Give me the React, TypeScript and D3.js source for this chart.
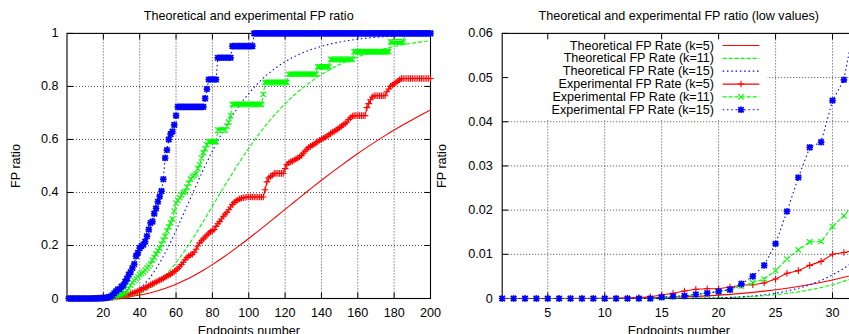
import React from "react";
import * as d3 from "d3";

// ---------------- DATA ----------------
// Endpoints number for experimental series (1..200)
const expN: number[] = d3.range(1, 201);

const expK5: number[] = [
  0, 0, 0, 0, 0, 0, 0, 0, 0, 0, 0,
  0.0001, 0.0002, 0.0004, 0.0008, 0.0012, 0.0017, 0.0021, 0.0022, 0.0022, 0.0026,
  0.003, 0.0031, 0.0035, 0.0044, 0.0057, 0.0063, 0.0075, 0.0084, 0.01, 0.0104, 0.011,
  0.012, 0.014, 0.017, 0.019, 0.022, 0.025, 0.028, 0.031, 0.034, 0.037,
  0.041, 0.044, 0.048, 0.052, 0.055, 0.058, 0.062, 0.066, 0.069, 0.072,
  0.076, 0.08, 0.084, 0.088, 0.092, 0.097, 0.102, 0.107, 0.113, 0.12,
  0.128, 0.137, 0.146, 0.154, 0.16, 0.164, 0.167, 0.175, 0.186, 0.198,
  0.21, 0.218, 0.225, 0.232, 0.239, 0.246, 0.252, 0.256, 0.26, 0.272,
  0.282, 0.29, 0.3, 0.31, 0.318, 0.325, 0.335, 0.345, 0.355, 0.362,
  0.368, 0.372, 0.376, 0.378, 0.38, 0.381,
  0.383, 0.383, 0.383, 0.383, 0.383, 0.383, 0.383, 0.383, 0.383, 0.383,
  0.41, 0.44, 0.455, 0.46, 0.465,
  0.472, 0.472, 0.472, 0.472, 0.472, 0.472,
  0.49, 0.505, 0.512, 0.516, 0.518, 0.522, 0.526, 0.53, 0.534, 0.54,
  0.548, 0.556, 0.563, 0.57, 0.574, 0.578, 0.582, 0.587, 0.592, 0.597,
  0.6, 0.604, 0.608, 0.612, 0.617, 0.622, 0.627, 0.63, 0.635, 0.64,
  0.645, 0.65, 0.655, 0.66, 0.666, 0.675, 0.682, 0.688,
  0.69, 0.69, 0.69, 0.69, 0.69, 0.69, 0.69,
  0.72, 0.735, 0.75, 0.76,
  0.765, 0.765, 0.765, 0.765, 0.765, 0.765, 0.765,
  0.78, 0.79, 0.8, 0.805, 0.81, 0.815, 0.82, 0.825,
  0.83, 0.83, 0.83, 0.83, 0.83, 0.83, 0.83, 0.83, 0.83, 0.83,
  0.83, 0.83, 0.83, 0.83, 0.83, 0.83, 0.83,
];

const expK11: number[] = [
  0, 0, 0, 0, 0, 0, 0, 0, 0, 0, 0, 0, 0, 0,
  0.0002, 0.0004, 0.0006, 0.0009, 0.0012, 0.0016, 0.002, 0.0028, 0.0036, 0.0044,
  0.0063, 0.0089, 0.011, 0.0128, 0.0129, 0.0163, 0.0187, 0.022,
  0.03, 0.038, 0.05, 0.06, 0.068, 0.075, 0.082, 0.09, 0.095, 0.1,
  0.108, 0.115, 0.122, 0.13, 0.145, 0.155, 0.168, 0.18, 0.19, 0.205,
  0.22, 0.235, 0.255, 0.27, 0.285, 0.3, 0.33, 0.36, 0.37, 0.38,
  0.39, 0.4, 0.403, 0.42, 0.435, 0.45, 0.46, 0.465, 0.47, 0.49,
  0.505, 0.53, 0.55, 0.565, 0.58,
  0.592, 0.592, 0.592, 0.592, 0.592,
  0.635, 0.635, 0.635, 0.635, 0.635,
  0.65, 0.665, 0.69,
  0.732, 0.732, 0.732, 0.732, 0.732, 0.732, 0.732, 0.732, 0.732, 0.732,
  0.732, 0.732, 0.732, 0.732, 0.732, 0.732, 0.732,
  0.77,
  0.815, 0.815, 0.815, 0.815, 0.815, 0.815, 0.815, 0.815, 0.815, 0.815,
  0.815, 0.815, 0.815,
  0.846, 0.846, 0.846, 0.846, 0.846, 0.846, 0.846, 0.846, 0.846, 0.846,
  0.846, 0.846, 0.846, 0.846, 0.846, 0.846,
  0.874, 0.874, 0.874, 0.874, 0.874, 0.874, 0.874,
  0.902, 0.902, 0.902, 0.902, 0.902, 0.902, 0.902, 0.902, 0.902, 0.902,
  0.902, 0.902, 0.902,
  0.931, 0.931, 0.931, 0.931, 0.931, 0.931, 0.931, 0.931, 0.931, 0.931,
  0.931, 0.931, 0.931, 0.931, 0.931, 0.931, 0.931, 0.931, 0.931, 0.931,
  0.968, 0.968, 0.968, 0.968, 0.968, 0.968, 0.968, 0.968,
  1, 1, 1, 1, 1, 1, 1, 1, 1, 1, 1, 1, 1, 1, 1,
];

const expK15: number[] = [
  0, 0, 0, 0, 0, 0, 0, 0, 0, 0, 0, 0, 0, 0,
  0.0003, 0.0005, 0.0006, 0.0009, 0.0012, 0.0016, 0.002, 0.0033, 0.005, 0.0075,
  0.0124, 0.0197, 0.0274, 0.0342, 0.0354, 0.0448, 0.0495, 0.063,
  0.075, 0.09, 0.1, 0.115, 0.13, 0.16, 0.172, 0.19, 0.198, 0.203,
  0.215, 0.235, 0.26, 0.285, 0.29, 0.32, 0.34, 0.365, 0.385, 0.405,
  0.45, 0.53, 0.56, 0.6, 0.62, 0.63, 0.655, 0.69,
  0.723, 0.723, 0.723, 0.723, 0.723, 0.723, 0.723, 0.723, 0.723, 0.723,
  0.723, 0.723, 0.723, 0.723, 0.723,
  0.755, 0.79,
  0.826, 0.826, 0.826, 0.826, 0.826,
  0.908, 0.908, 0.908, 0.908, 0.908, 0.908, 0.908, 0.908,
  0.952, 0.952, 0.952, 0.952, 0.952, 0.952, 0.952, 0.952, 0.952, 0.952,
  0.952, 0.952,
  1, 1, 1, 1, 1, 1, 1, 1, 1, 1, 1, 1, 1, 1, 1, 1, 1, 1, 1, 1,
  1, 1, 1, 1, 1, 1, 1, 1, 1, 1, 1, 1, 1, 1, 1, 1, 1, 1, 1, 1,
  1, 1, 1, 1, 1, 1, 1, 1, 1, 1, 1, 1, 1, 1, 1, 1, 1, 1, 1, 1,
  1, 1, 1, 1, 1, 1, 1, 1, 1, 1, 1, 1, 1, 1, 1, 1, 1, 1, 1, 1,
  1, 1, 1, 1, 1, 1, 1, 1, 1, 1, 1, 1, 1, 1, 1, 1, 1, 1,
];

// Theoretical curves, sampled at these endpoint counts
const theoN: number[] = [
  1, 5, 10, 14, 16, 18, 20, 22, 24, 26, 28, 30, 32,
  35, 40, 45, 50, 55, 60, 65, 70, 75, 80, 85, 90, 95, 100,
  105, 110, 115, 120, 125, 130, 135, 140, 145, 150, 155, 160, 165, 170,
  175, 180, 185, 190, 195, 200,
];
const theoK5: number[] = [
  0, 0.0000012, 0.000033, 0.000156, 0.000285, 0.000481, 0.00076, 0.00115, 0.00167, 0.00233, 0.00317, 0.0042, 0.00545,
  0.00777, 0.01296, 0.02, 0.0291, 0.0404, 0.0538, 0.0694, 0.0871, 0.1065, 0.1279, 0.1507, 0.1749, 0.2002, 0.2264,
  0.2534, 0.2807, 0.3085, 0.3364, 0.364, 0.3916, 0.419, 0.4459, 0.4721, 0.4976, 0.5226, 0.5469, 0.5701, 0.5927,
  0.6145, 0.6354, 0.6555, 0.6746, 0.6931, 0.7108,
];
const theoK11: number[] = [
  0, 0, 0.00000034, 0.0000075, 0.000024, 0.000065, 0.000153, 0.000326, 0.000635, 0.001146, 0.00195, 0.00313, 0.00483,
  0.00856, 0.01902, 0.0362, 0.0611, 0.0942, 0.1351, 0.1824, 0.2348, 0.2905, 0.3479, 0.4053, 0.4614, 0.5158, 0.5668,
  0.6145, 0.6584, 0.6984, 0.7343, 0.7669, 0.796, 0.8218, 0.8447, 0.8649, 0.8826, 0.898, 0.9117, 0.9235, 0.9338,
  0.9427, 0.9505, 0.9572, 0.963, 0.9681, 0.9725,
];
const theoK15: number[] = [
  0, 0, 0.000000075, 0.0000038, 0.000016, 0.000055, 0.000156, 0.000385, 0.000847, 0.00169, 0.00311, 0.00535, 0.00866,
  0.01626, 0.038, 0.0735, 0.1232, 0.1852, 0.2566, 0.3329, 0.4101, 0.4857, 0.5558, 0.6206, 0.6788, 0.7297, 0.7732,
  0.8112, 0.8433, 0.8704, 0.8931, 0.9119, 0.9276, 0.9405, 0.9512, 0.9601, 0.9673, 0.9733, 0.9782, 0.9822, 0.9854,
  0.9881, 0.9903, 0.992, 0.9935, 0.9947, 0.9957,
];

const leftXTicks = [20, 40, 60, 80, 100, 120, 140, 160, 180, 200];
const leftYTicks = [0, 0.2, 0.4, 0.6, 0.8, 1];
const rightXTicks = [5, 10, 15, 20, 25, 30];
const rightYTicks = [0, 0.01, 0.02, 0.03, 0.04, 0.05, 0.06];

const titleLeft = "Theoretical and experimental FP ratio";
const titleRight = "Theoretical and experimental FP ratio (low values)";
const xLabel = "Endpoints number";
const yLabel = "FP ratio";

// ---------------- STYLE ----------------
const W = 849;
const H = 334;
const FONT = "'Liberation Sans', Arial, Helvetica, sans-serif";
const FS = 12.6;
const RED = "#ff0000";
const GREEN = "#00ff00";
const BLUE = "#0000ff";
const DASH = "4,2";
const DOT = "1.5,2.8";

type Series = {
  name: string;
  color: string;
  dash: string | null;
  xs: number[];
  ys: number[];
  marker: "plus" | "cross" | "star" | null;
  smooth: boolean;
};

const series: Series[] = [
  { name: "Theoretical FP Rate (k=5)", color: RED, dash: null, xs: theoN, ys: theoK5, marker: null, smooth: true },
  { name: "Theoretical FP Rate (k=11)", color: GREEN, dash: DASH, xs: theoN, ys: theoK11, marker: null, smooth: true },
  { name: "Theoretical FP Rate (k=15)", color: BLUE, dash: DOT, xs: theoN, ys: theoK15, marker: null, smooth: true },
  { name: "Experimental FP Rate (k=5)", color: RED, dash: null, xs: expN, ys: expK5, marker: "plus", smooth: false },
  { name: "Experimental FP Rate (k=11)", color: GREEN, dash: DASH, xs: expN, ys: expK11, marker: "cross", smooth: false },
  { name: "Experimental FP Rate (k=15)", color: BLUE, dash: DOT, xs: expN, ys: expK15, marker: "star", smooth: false },
];

function markerPath(type: string, x: number, y: number): string {
  const s = 3.3;
  const c = 2.7;
  if (type === "plus") return `M${x - s},${y}H${x + s}M${x},${y - s}V${y + s}`;
  if (type === "cross") return `M${x - c},${y - c}L${x + c},${y + c}M${x - c},${y + c}L${x + c},${y - c}`;
  return `M${x - s},${y}H${x + s}M${x},${y - s}V${y + s}M${x - c},${y - c}L${x + c},${y + c}M${x - c},${y + c}L${x + c},${y - c}`;
}

function markerWidth(type: string): number {
  return type === "star" ? 1.7 : 1.1;
}

type PanelProps = {
  id: string;
  x0: number;
  x1: number;
  xDomain: [number, number];
  yDomain: [number, number];
  xTicks: number[];
  yTicks: number[];
  xFmt: (v: number) => string;
  yFmt: (v: number) => string;
  yLabelRight: number;
  yAxisLabelX: number;
  title: string;
  legend: boolean;
};

const TOP = 33.4;
const BOTTOM = 298.5;

function Panel(p: PanelProps) {
  const x = d3.scaleLinear().domain(p.xDomain).range([p.x0, p.x1]);
  const y = d3.scaleLinear().domain(p.yDomain).range([BOTTOM, TOP]);
  const cx = (p.x0 + p.x1) / 2;
  const tickLen = 6;
  const clipId = `clip-${p.id}`;

  const gridX = p.xTicks.filter((t) => t > p.xDomain[0] && t < p.xDomain[1]);
  const gridY = p.yTicks.filter((t) => t > p.yDomain[0] && t < p.yDomain[1]);

  const legendRight = 767;
  const legendBottom = 119.5;
  const legendRows = series.map((s, i) => ({ s, yy: 45.5 + i * 12.85 }));

  return (
    <g fontFamily={FONT} fontSize={FS}>
      <defs>
        <clipPath id={clipId}>
          <rect x={p.x0} y={TOP} width={p.x1 - p.x0} height={BOTTOM - TOP} />
        </clipPath>
      </defs>
      {/* grid */}
      <g stroke="#333" strokeWidth={0.9} strokeDasharray="1,2" fill="none">
        {gridX.map((t) => (
          <line key={`gx${t}`} x1={x(t)} x2={x(t)} y1={TOP} y2={BOTTOM} />
        ))}
        {gridY.map((t) => (
          <line key={`gy${t}`} x1={p.x0} x2={p.x1} y1={y(t)} y2={y(t)} />
        ))}
      </g>
      {p.legend && (
        <rect x={p.x0} y={TOP} width={legendRight - p.x0} height={legendBottom - TOP} fill="#fff" />
      )}
      {/* frame */}
      <rect x={p.x0} y={TOP} width={p.x1 - p.x0} height={BOTTOM - TOP} fill="none" stroke="#000" strokeWidth={1.1} />
      {/* ticks */}
      <g stroke="#000" strokeWidth={1}>
        {p.xTicks.map((t) => (
          <g key={`tx${t}`}>
            <line x1={x(t)} x2={x(t)} y1={BOTTOM} y2={BOTTOM - tickLen} />
            <line x1={x(t)} x2={x(t)} y1={TOP} y2={TOP + tickLen} />
          </g>
        ))}
        {p.yTicks.map((t) => (
          <g key={`ty${t}`}>
            <line x1={p.x0} x2={p.x0 + tickLen} y1={y(t)} y2={y(t)} />
            <line x1={p.x1} x2={p.x1 - tickLen} y1={y(t)} y2={y(t)} />
          </g>
        ))}
      </g>
      {/* tick labels */}
      <g fill="#000">
        {p.xTicks.map((t) => (
          <text key={`lx${t}`} x={x(t)} y={316.5} textAnchor="middle">
            {p.xFmt(t)}
          </text>
        ))}
        {p.yTicks.map((t) => (
          <text key={`ly${t}`} x={p.yLabelRight} y={y(t)} textAnchor="end" dominantBaseline="central">
            {p.yFmt(t)}
          </text>
        ))}
      </g>
      {/* titles */}
      <text x={cx} y={19.5} textAnchor="middle" fill="#000">
        {p.title}
      </text>
      <text x={cx} y={335} textAnchor="middle" fill="#000">
        {xLabel}
      </text>
      <text
        transform={`translate(${p.yAxisLabelX},166) rotate(-90)`}
        textAnchor="middle"
        dominantBaseline="central"
        fill="#000"
      >
        {yLabel}
      </text>
      {/* legend */}
      {p.legend && (
        <g>
          {legendRows.map(({ s, yy }) => (
            <g key={s.name}>
              <text x={714} y={yy} textAnchor="end" dominantBaseline="central" fill="#000">
                {s.name}
              </text>
              <line
                x1={722.7}
                x2={759.3}
                y1={yy}
                y2={yy}
                stroke={s.color}
                strokeWidth={1.2}
                strokeDasharray={s.dash || undefined}
              />
              {s.marker && (
                <path d={markerPath(s.marker, 741, yy)} stroke={s.color} strokeWidth={markerWidth(s.marker)} fill="none" />
              )}
            </g>
          ))}
        </g>
      )}
      {/* data */}
      {series.map((s) => {
        const pts: [number, number][] = s.xs.map((v, i) => [v, s.ys[i]]);
        const line = d3
          .line<[number, number]>()
          .x((d) => x(d[0]))
          .y((d) => y(d[1]))
          .curve(s.smooth ? d3.curveMonotoneX : d3.curveLinear);
        const visible = pts.filter(
          (d) => d[0] >= p.xDomain[0] && d[0] <= p.xDomain[1] && d[1] >= p.yDomain[0] && d[1] <= p.yDomain[1]
        );
        return (
          <g key={s.name}>
            <path
              d={line(pts) || ""}
              clipPath={`url(#${clipId})`}
              fill="none"
              stroke={s.color}
              strokeWidth={1.1}
              strokeDasharray={s.dash || undefined}
            />
            {s.marker && (
              <path
                d={visible.map((d) => markerPath(s.marker as string, x(d[0]), y(d[1]))).join("")}
                stroke={s.color}
                strokeWidth={markerWidth(s.marker)}
                fill="none"
              />
            )}
          </g>
        );
      })}
    </g>
  );
}

export default function App() {
  return (
    <svg
      width={W}
      height={H}
      viewBox={`0 0 ${W} ${H}`}
      style={{ position: "absolute", left: 0, top: 0, background: "#fff" }}
    >
      <rect width={W} height={H} fill="#fff" />
      <Panel
        id="left"
        x0={67}
        x1={430.5}
        xDomain={[0, 200]}
        yDomain={[0, 1]}
        xTicks={leftXTicks}
        yTicks={leftYTicks}
        xFmt={(v) => String(v)}
        yFmt={(v) => String(+v.toFixed(1))}
        yLabelRight={58.5}
        yAxisLabelX={16}
        title={titleLeft}
        legend={false}
      />
      <Panel
        id="right"
        x0={502.2}
        x1={855.3}
        xDomain={[1, 32]}
        yDomain={[0, 0.06]}
        xTicks={rightXTicks}
        yTicks={rightYTicks}
        xFmt={(v) => String(v)}
        yFmt={(v) => String(+v.toFixed(2))}
        yLabelRight={492.7}
        yAxisLabelX={441.5}
        title={titleRight}
        legend={true}
      />
    </svg>
  );
}
